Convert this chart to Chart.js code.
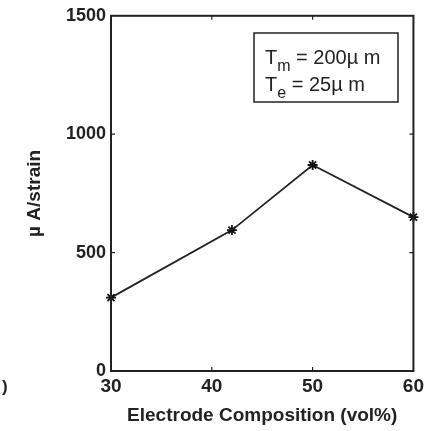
<!DOCTYPE html>
<html>
<head>
<meta charset="utf-8">
<script src="https://cdn.jsdelivr.net/npm/chart.js@4"></script>
<style>
  html, body { margin: 0; padding: 0; background: #fff; }
  #wrap { width: 428px; height: 431px; }
</style>
</head>
<body>
<div id="wrap"><canvas id="strainChart" width="428" height="431"></canvas></div>
<script>
// electrode composition (vol%) vs. response per unit strain
const composition = [30, 42, 50, 60];
const response = [310, 595, 870, 650];
const xTicks = [30, 40, 50, 60];
const yTicks = [0, 500, 1000, 1500];

const ink = "#222";
const face = "'Liberation Sans', Arial, sans-serif";

// box around the plot, inward tick marks, parameter note
const framePlugin = {
  id: "frame",
  afterDraw(chart) {
    const { ctx, chartArea: a, scales } = chart;
    ctx.save();
    ctx.strokeStyle = ink;
    ctx.lineWidth = 2;
    ctx.strokeRect(a.left, a.top, a.right - a.left, a.bottom - a.top);

    ctx.lineWidth = 1.2;
    ctx.beginPath();
    xTicks.slice(1, -1).forEach(v => {
      const px = scales.x.getPixelForValue(v);
      ctx.moveTo(px, a.bottom); ctx.lineTo(px, a.bottom - 4);
      ctx.moveTo(px, a.top); ctx.lineTo(px, a.top + 4);
    });
    yTicks.slice(1, -1).forEach(v => {
      const py = scales.y.getPixelForValue(v);
      ctx.moveTo(a.left, py); ctx.lineTo(a.left + 4, py);
      ctx.moveTo(a.right, py); ctx.lineTo(a.right - 4, py);
    });
    ctx.stroke();

    // note box
    ctx.lineWidth = 1.5;
    ctx.strokeRect(254, 33, 144, 69);
    ctx.fillStyle = ink;
    ctx.textBaseline = "alphabetic";
    const rows = [["m", " = 200\u00b5 m", 64], ["e", " = 25\u00b5 m", 91]];
    rows.forEach(([sub, rest, base]) => {
      let x = 265;
      ctx.font = "20px " + face;
      ctx.fillText("T", x, base);
      x += ctx.measureText("T").width;
      ctx.font = "16px " + face;
      ctx.fillText(sub, x, base + 7);
      x += ctx.measureText(sub).width;
      ctx.font = "20px " + face;
      ctx.fillText(rest, x, base);
    });

    ctx.font = "bold 17px " + face;
    ctx.textBaseline = "middle";
    ctx.fillText(")", 2, 387);
    ctx.restore();
  }
};

new Chart(document.getElementById("strainChart").getContext("2d"), {
  type: "line",
  data: {
    datasets: [{
      data: composition.map((c, i) => ({ x: c, y: response[i] })),
      borderColor: ink,
      borderWidth: 1.8,
      pointStyle: "star",
      pointRadius: 5,
      pointBorderWidth: 1.8,
      pointBorderColor: "#111",
      pointBackgroundColor: "#111",
      tension: 0,
      clip: false
    }]
  },
  options: {
    responsive: false,
    animation: false,
    layout: { padding: { left: 0, top: 15, right: 11, bottom: 0 } },
    plugins: { legend: { display: false }, tooltip: { enabled: false } },
    scales: {
      x: {
        type: "linear",
        min: 30,
        max: 60,
        afterBuildTicks: s => { s.ticks = xTicks.map(v => ({ value: v })); },
        afterFit: s => { s.height = 60; },
        grid: { display: false, drawTicks: false },
        border: { display: false },
        ticks: {
          padding: 4,
          color: ink,
          callback: v => String(v),
          font: { family: face, size: 19, weight: "bold" }
        },
        title: {
          display: true,
          text: "Electrode Composition (vol%)",
          color: ink,
          padding: { top: 0, bottom: 4 },
          font: { family: face, size: 19, weight: "bold" }
        }
      },
      y: {
        min: 0,
        max: 1500,
        afterBuildTicks: s => { s.ticks = yTicks.map(v => ({ value: v })); },
        afterFit: s => { s.width = 111; },
        grid: { display: false, drawTicks: false },
        border: { display: false },
        ticks: {
          padding: 5,
          color: ink,
          callback: v => String(v),
          font: { family: face, size: 18, weight: "bold" }
        },
        title: {
          display: true,
          text: "\u00b5 A/strain",
          color: ink,
          padding: { top: 23, bottom: 0 },
          font: { family: face, size: 19, weight: "bold" }
        }
      }
    }
  },
  plugins: [framePlugin]
});
</script>
</body>
</html>
